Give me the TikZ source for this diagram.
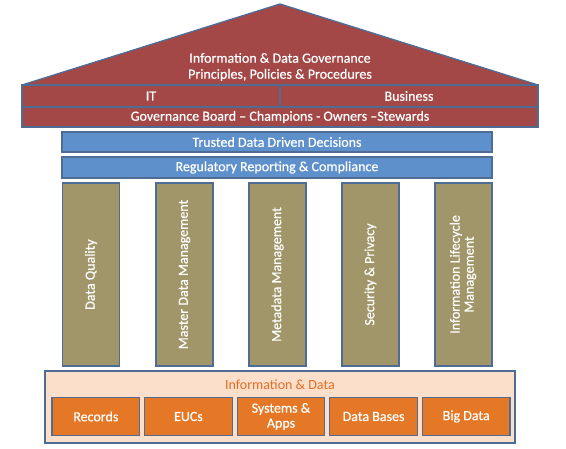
\documentclass[tikz,border=0pt]{standalone}
\usepackage{fontspec}
\setmainfont{Carlito}
\newfontfamily\semib{Carlito}[FakeBold=0.5,Ligatures=TeX]
\definecolor{roofred}{RGB}{163,72,70}
\definecolor{edge}{RGB}{78,108,148}
\definecolor{barblue}{RGB}{94,145,203}
\definecolor{olive}{RGB}{161,150,106}
\definecolor{orng}{RGB}{228,120,38}
\definecolor{peach}{RGB}{252,223,202}
\definecolor{orngtext}{RGB}{226,110,36}
\begin{document}
\begin{tikzpicture}[x=1pt,y=-1pt,
  box/.style={draw=edge,line width=1.3pt,inner sep=0pt,outer sep=0pt,text=white,font=\semib\fontsize{14}{16}\selectfont,align=center},
  redbar/.style={box,fill=roofred},
  bluebar/.style={box,fill=barblue,minimum width=430pt,minimum height=20pt},
  pillar/.style={box,fill=olive,minimum width=57pt,minimum height=183pt},
  orangebox/.style={box,fill=orng,minimum width=87.6pt,minimum height=38pt,font=\semib\fontsize{14}{15}\selectfont}]
\useasboundingbox (0,0) rectangle (566,449);
% roof
\coordinate (rl) at (22,85);
\coordinate (rt) at (280,4);
\coordinate (rr) at (538,85);
\draw[draw=edge,line width=1.3pt,fill=roofred,line join=round] (rl) -- (rt) -- (rr) -- cycle;
\node[text=white,font=\semib\fontsize{14}{16}\selectfont,align=center] (title) at (280,67) {Information \& Data Governance\\Principles, Policies \& Procedures};
% IT / Business
\node[redbar,minimum width=258pt,minimum height=22pt] (it) at (151,96) {IT};
\node[redbar,minimum width=258pt,minimum height=22pt] (bus) at (409,96) {Business};
\node[redbar,minimum width=516pt,minimum height=20pt] (gov) at (280,117) {Governance Board – Champions - Owners –Stewards};
% blue bars
\node[bluebar] (trust) at (277,142) {Trusted Data Driven Decisions};
\node[bluebar,minimum height=21pt] (reg) at (277,167.5) {Regulatory Reporting \& Compliance};
% pillars
\node[pillar] (p1) at (91,274.5) {\rotatebox{90}{Data Quality}};
\node[pillar] (p2) at (184.5,274.5) {\rotatebox{90}{Master Data Management}};
\node[pillar] (p3) at (277.5,274.5) {\rotatebox{90}{Metadata Management}};
\node[pillar] (p4) at (370.5,274.5) {\rotatebox{90}{Security \& Privacy}};
\node[pillar] (p5) at (463.5,274.5) {\rotatebox{90}{\begin{tabular}{@{}c@{}}Information Lifecycle\\[-2pt]Management\end{tabular}}};
% information & data
\node[box,fill=peach,minimum width=470pt,minimum height=72pt] (info) at (280,407) {};
\node[text=orngtext,font=\fontsize{14}{16}\selectfont] (infolabel) at (280,385) {Information \& Data};
\node[orangebox] (b1) at (95.8,416.5) {Records};
\node[orangebox] (b2) at (188.4,416.5) {EUCs};
\node[orangebox] (b3) at (281,416.5) {Systems \&\\Apps};
\node[orangebox] (b4) at (373.6,416.5) {Data Bases};
\node[orangebox] (b5) at (466.2,416.5) {Big Data};
\end{tikzpicture}
\end{document}
